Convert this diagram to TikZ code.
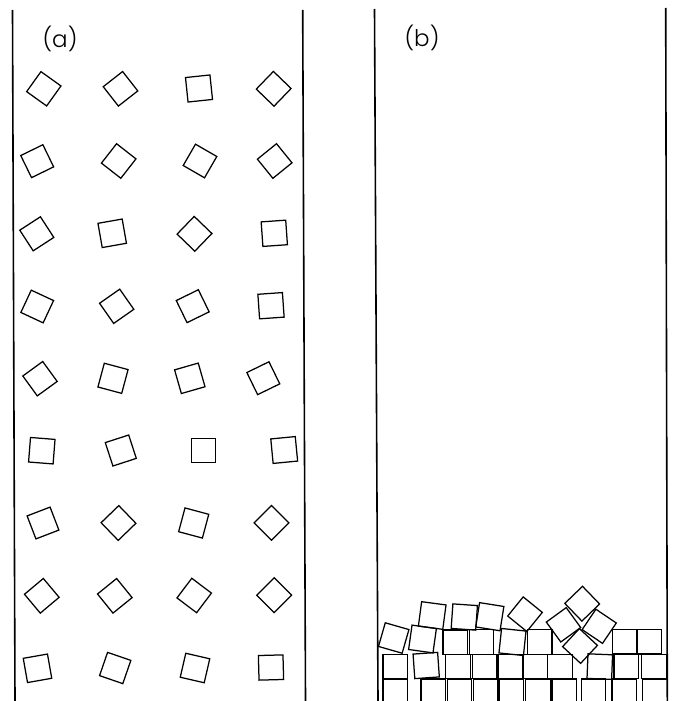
\documentclass[tikz,border=0pt]{standalone}
\usepackage{fontspec}
\setmainfont{Poppins}[UprightFont=* Light]
\begin{document}
\begin{tikzpicture}[x=1pt,y=-1pt,
  tile/.style={draw=black, line width=1.25pt, line join=miter},
  wall/.style={draw=black, line width=1.6pt},
  panellabel/.style={font=\fontsize{23}{23}\selectfont, inner sep=0pt}]
\useasboundingbox (0,0) rectangle (673,701);
\clip (0,0) rectangle (673,701);

% container walls
\coordinate (aLtop) at (12.5,10);   \coordinate (aLbot) at (15,701);
\coordinate (aRtop) at (302.7,10);  \coordinate (aRbot) at (305.5,701);
\coordinate (bLtop) at (374.5,9);   \coordinate (bLbot) at (378,701);
\coordinate (bRtop) at (665.7,8);   \coordinate (bRbot) at (667.3,701);
\draw[wall] (aLtop) -- (aLbot);
\draw[wall] (aRtop) -- (aRbot);
\draw[wall] (bLtop) -- (bLbot);
\draw[wall] (bRtop) -- (bRbot);

% panel labels
\node[panellabel] (labA) at (60,39) {(a)};
\node[panellabel] (labB) at (422,38) {(b)};

% (a) particles suspended on a lattice: centre x / centre y / rotation
\foreach \cx/\cy/\r in {
  43.8/88.8/-35.6, 120.5/88.8/38, 199/88.5/6, 273.7/88.8/46,
  37.2/161.2/26, 118.7/161/-38, 200/161/-30, 274.7/161/39,
  36.8/233.8/33, 112.2/233.3/10, 194.5/233.8/46, 274.3/233.3/4,
  37.2/306.5/-25, 116.7/306.3/35, 192.7/306.2/26, 271/305.7/4,
  40/378.7/36, 113/378.3/-15, 189.8/378.3/16, 263.3/378.2/26,
  41.8/450.7/-4.5, 120.8/450.5/18, 203.5/450.5/0, 284.2/450/5.5,
  43/523/21, 118.5/523/44, 193.7/523/-15, 271.5/522.8/45,
  41.8/595.8/40, 114.8/595.8/39, 194.2/595.5/-37, 274.2/595.2/45,
  37.5/668.3/10, 115.2/668/-19, 195/668/-13, 271/667.5/1.5}
  \draw[tile, shift={(\cx,\cy)}, rotate=\r] (-12.3,-12.3) rectangle (12.3,12.3);

% (b) settled packing
\foreach \cx/\cy/\r in {
  % bottom layer
  395.2/691.3/0, 433.3/691.3/0, 459.5/691.3/0, 485.5/691.3/0, 511.3/691.3/0,
  538/691.3/0, 564.2/691.3/0, 593.5/691.3/0, 624.2/691.3/0, 655/691.3/0,
  % second layer
  395.2/666.5/0, 426.2/665.5/4, 458/666.5/0, 484.5/666.5/0, 510.3/666.5/0,
  535.3/666.5/0, 560/666.5/0, 599.8/666.6/-2.3, 626.3/666.5/0, 654/666.5/0,
  % third layer
  393.7/638/-16, 422.5/639/-8, 455.2/642.2/0, 481.5/642/0, 512.5/642/-6,
  539.8/642/0, 624.7/641.7/0, 649.2/641.7/0,
  % top layer
  432.2/615.5/-7.6, 464.3/617/-4, 489.8/616.7/-9, 525/614.2/-39,
  % jammed cluster
  582.2/603.7/44, 563.5/624.8/36, 599.2/626.3/-34, 580/646/-43}
  \draw[tile, shift={(\cx,\cy)}, rotate=\r] (-12.3,-12.3) rectangle (12.3,12.3);
\end{tikzpicture}
\end{document}
